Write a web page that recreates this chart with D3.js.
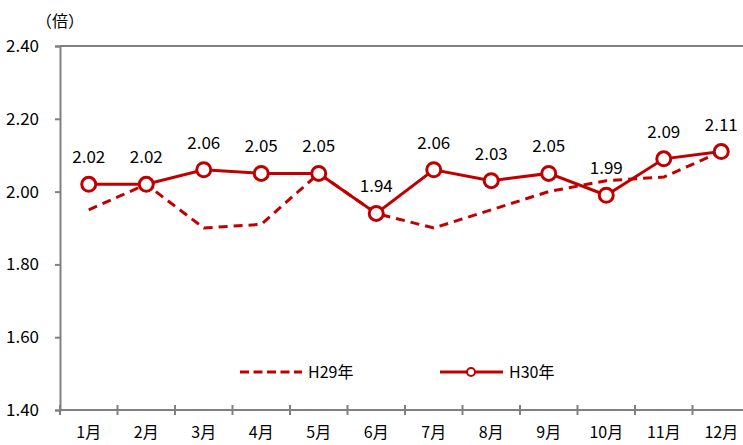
<!DOCTYPE html>
<html><head><meta charset="utf-8">
<script src="https://cdn.jsdelivr.net/npm/d3@7"></script>
<style>body{margin:0;background:#fff}svg{display:block}text{font-family:"Noto Sans CJK JP","Noto Sans",sans-serif;fill:#000}</style>
</head><body>
<svg id="c" width="743" height="445"></svg>
<script>
const months = ["1月","2月","3月","4月","5月","6月","7月","8月","9月","10月","11月","12月"];
const h29 = [1.95,2.02,1.90,1.91,2.05,1.94,1.90,1.95,2.00,2.03,2.04,2.11];
const h30 = [2.02,2.02,2.06,2.05,2.05,1.94,2.06,2.03,2.05,1.99,2.09,2.11];
const yTicks = [1.40,1.60,1.80,2.00,2.20,2.40];
const seriesNames = ["H29年","H30年"];

const svg = d3.select("#c");
const red = "#C00000", gray = "#808080";
const x = d3.scaleBand().domain(months).range([60, 750]);
const y = d3.scaleLinear().domain([1.40, 2.40]).range([410, 46]);
const cx = m => x(m) + x.bandwidth()/2;

svg.append("line").attr("x1",60).attr("x2",743).attr("y1",y(2.40)).attr("y2",y(2.40))
  .attr("stroke",gray).attr("stroke-width",2);

const ya = svg.append("g").attr("transform","translate(60,0)")
  .call(d3.axisLeft(y).tickValues(yTicks).tickFormat(d3.format(".2f")).tickSize(5).tickPadding(16));
ya.select(".domain").attr("stroke",gray).attr("stroke-width",2);
ya.selectAll(".tick line").attr("stroke",gray).attr("stroke-width",2);
ya.selectAll(".tick text").style("font-size","17px").attr("fill","#000");

const xa = svg.append("g").attr("transform","translate(0,410)")
  .call(d3.axisBottom(x).tickSize(0).tickPadding(17));
xa.select(".domain").remove();
svg.append("line").attr("x1",60).attr("x2",743).attr("y1",410).attr("y2",410).attr("stroke",gray).attr("stroke-width",2);
const xt = d3.range(months.length+1).map(i => 60 + i*x.step());
svg.selectAll(".xt").data(xt).join("line").attr("class","xt")
  .attr("x1",d=>d).attr("x2",d=>d).attr("y1",405).attr("y2",415).attr("stroke",gray).attr("stroke-width",2);
xa.selectAll(".tick text").style("font-size","16px").attr("fill","#000").attr("dy","0.71em");

svg.append("text").attr("x",60).attr("y",27).attr("text-anchor","middle").style("font-size","16px").text("（倍）");

const line = d3.line().x((d,i)=>cx(months[i])).y(d=>y(d));
svg.append("path").datum(h29).attr("d",line).attr("fill","none").attr("stroke",red)
  .attr("stroke-width",3).attr("stroke-dasharray","9,6");
svg.append("path").datum(h30).attr("d",line).attr("fill","none").attr("stroke",red).attr("stroke-width",3);
svg.selectAll(".pt").data(h30).join("circle").attr("class","pt")
  .attr("cx",(d,i)=>cx(months[i])).attr("cy",d=>y(d)).attr("r",7)
  .attr("fill","#fff").attr("stroke",red).attr("stroke-width",3);
svg.selectAll(".lbl").data(h30).join("text").attr("class","lbl")
  .attr("x",(d,i)=>cx(months[i])).attr("y",d=>y(d)-21).attr("text-anchor","middle")
  .style("font-size","17px").text(d=>d.toFixed(2));

const lg = svg.append("g");
lg.append("line").attr("x1",240).attr("x2",302).attr("y1",372).attr("y2",372).attr("stroke",red)
  .attr("stroke-width",3).attr("stroke-dasharray","9,4.5");
lg.append("text").attr("x",308).attr("y",378).style("font-size","16px").text(seriesNames[0]);
lg.append("line").attr("x1",440).attr("x2",503).attr("y1",372).attr("y2",372).attr("stroke",red).attr("stroke-width",3);
lg.append("circle").attr("cx",471).attr("cy",372).attr("r",4).attr("fill","#fff").attr("stroke",red).attr("stroke-width",2);
lg.append("text").attr("x",509).attr("y",378).style("font-size","16px").text(seriesNames[1]);
</script>
</body></html>
